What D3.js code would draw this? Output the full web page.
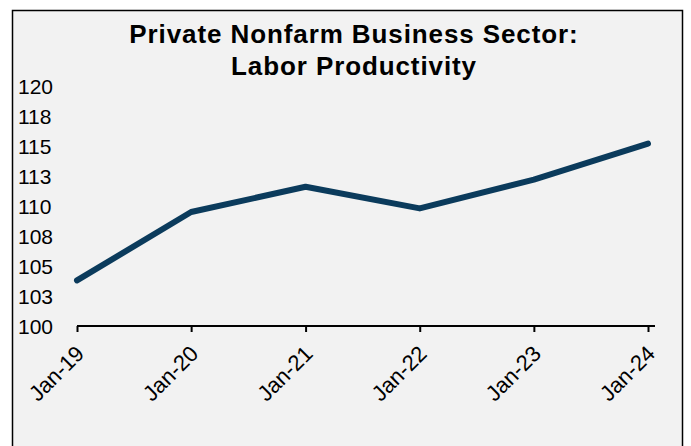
<!DOCTYPE html>
<html>
<head>
<meta charset="utf-8">
<script src="https://cdn.jsdelivr.net/npm/d3@7"></script>
<style>
  body { margin: 0; background: #fff; }
  svg { display: block; font-family: "Liberation Sans", Arial, sans-serif; }
</style>
</head>
<body>
<div id="chart"></div>
<script>
// data
var dates  = ["2019-01-01","2020-01-01","2021-01-01","2022-01-01","2023-01-01","2024-01-01"];
var values = [103.8, 109.5, 111.6, 109.8, 112.2, 115.2];
var yTicks = [100, 102.5, 105, 107.5, 110, 112.5, 115, 117.5, 120];
var titleLines = ["Private Nonfarm Business Sector:", "Labor Productivity"];

var width = 691, height = 446;
var margin = {top: 86, right: 42, bottom: 120, left: 77};

var parse = d3.timeParse("%Y-%m-%d");
var data = dates.map(function(d,i){ return {date: parse(d), value: values[i]}; });

var svg = d3.select("#chart").append("svg")
  .attr("width", width)
  .attr("height", height);

// frame
svg.append("rect")
  .attr("x", 12.5).attr("y", 10.5)
  .attr("width", 670).attr("height", 460)
  .attr("fill", "#f2f2f2")
  .attr("stroke", "#000")
  .attr("stroke-width", 1.5);

var x = d3.scaleTime()
  .domain(d3.extent(data, function(d){ return d.date; }))
  .range([margin.left, 648]);

var y = d3.scaleLinear()
  .domain([100, 120])
  .range([326, margin.top]);

// title
svg.append("g").selectAll("text")
  .data(titleLines)
  .enter().append("text")
  .attr("x", 354)
  .attr("y", function(d,i){ return 43 + i*32; })
  .attr("text-anchor", "middle")
  .attr("font-size", 26)
  .attr("font-weight", "bold")
  .attr("letter-spacing", 0.9)
  .attr("fill", "#000")
  .text(function(d){ return d; });

// y labels (no axis line)
svg.append("g").selectAll("text")
  .data(yTicks)
  .enter().append("text")
  .attr("x", 18)
  .attr("y", function(d){ return y(d); })
  .attr("dy", "0.36em")
  .attr("font-size", 21)
  .attr("fill", "#000")
  .text(function(d){ return d3.format(".0f")(Math.round(d)); });

// x axis
var xAxis = d3.axisBottom(x)
  .tickValues(data.map(function(d){ return d.date; }))
  .tickFormat(d3.timeFormat("%b-%y"))
  .tickSize(6)
  .tickSizeOuter(0);

var gx = svg.append("g")
  .attr("transform", "translate(0," + y(100) + ")")
  .call(xAxis);

gx.select(".domain")
  .attr("d", "M" + margin.left + ",0H655")
  .attr("stroke", "#000")
  .attr("stroke-width", 2);
gx.selectAll(".tick line").attr("stroke", "#000").attr("stroke-width", 2);
gx.selectAll(".tick text")
  .attr("font-size", 22)
  .attr("font-family", "Liberation Sans, Arial, sans-serif")
  .attr("fill", "#000")
  .attr("text-anchor", "end")
  .attr("dy", null)
  .attr("y", 0)
  .attr("transform", "translate(8,29) rotate(-45)");

// line
var line = d3.line()
  .x(function(d){ return x(d.date); })
  .y(function(d){ return y(d.value); });

svg.append("path")
  .datum(data)
  .attr("d", line)
  .attr("fill", "none")
  .attr("stroke", "#0b3b5c")
  .attr("stroke-width", 6)
  .attr("stroke-linecap", "round")
  .attr("stroke-linejoin", "round");
</script>
</body>
</html>
